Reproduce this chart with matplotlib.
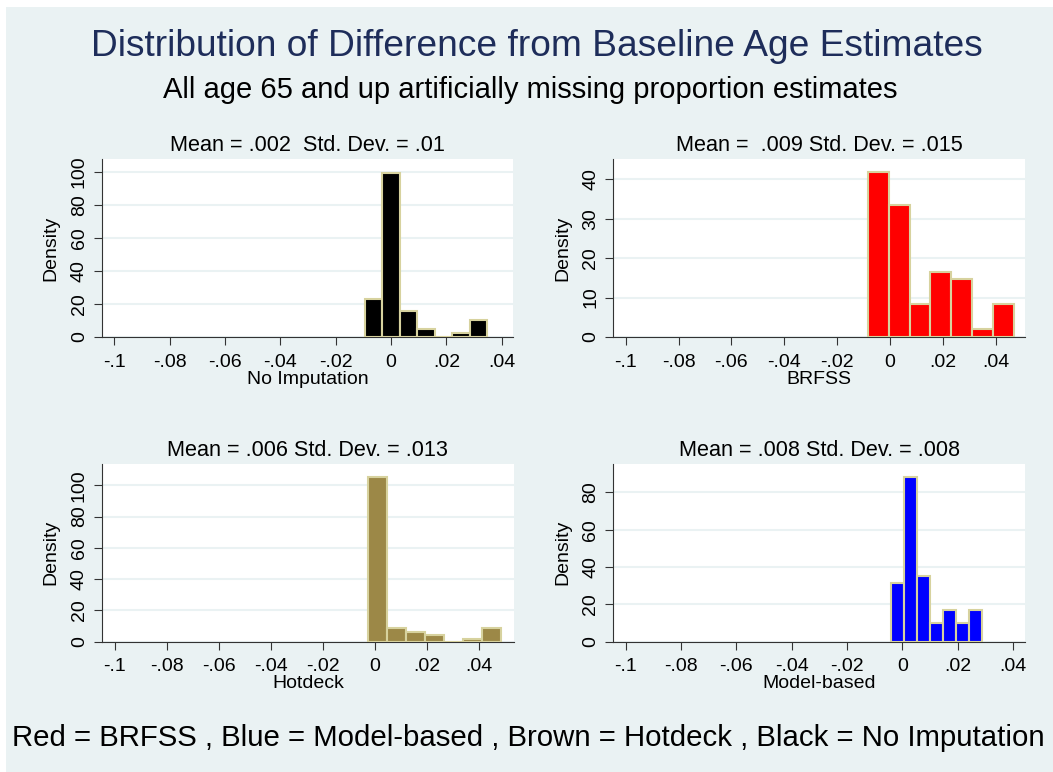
import numpy as np
import matplotlib.pyplot as plt
from matplotlib.patches import Rectangle

plt.rcParams['font.family'] = ['Liberation Sans', 'DejaVu Sans']

# histogram data (left bin edge, bin width, density)
noimp_start, noimp_width = -0.0094, 0.0063
noimp_dens = [23.2, 99.4, 15.5, 5.0, 0.0, 2.6, 10.3]

brfss_start, brfss_width = -0.0083, 0.00787
brfss_dens = [41.9, 33.5, 8.5, 16.6, 14.7, 2.0, 8.5]

hot_start, hot_width = -0.0026, 0.0073
hot_dens = [105.1, 8.5, 6.2, 4.1, 0.0, 1.7, 8.5]

model_start, model_width = -0.0041, 0.0047
model_dens = [31.6, 88.0, 35.0, 10.2, 17.0, 10.2, 17.0]

xticks = [-0.1, -0.08, -0.06, -0.04, -0.02, 0, 0.02, 0.04]
xticklabels = ['-.1', '-.08', '-.06', '-.04', '-.02', '0', '.02', '.04']

panels = [
    dict(start=noimp_start, width=noimp_width, dens=noimp_dens, color='black',
         title='Mean = .002  Std. Dev. = .01', xlabel='No Imputation',
         xlim=(-0.1046, 0.0441), ylim=(0, 107.9), yticks=np.arange(0, 101, 20),
         box=(101.7, 513, 159, 337)),
    dict(start=brfss_start, width=brfss_width, dens=brfss_dens, color='#ff0000',
         title='Mean =  .009 Std. Dev. = .015', xlabel='BRFSS',
         xlim=(-0.1047, 0.0511), ylim=(0, 45.2), yticks=np.arange(0, 41, 10),
         box=(613.3, 1025, 159, 337)),
    dict(start=hot_start, width=hot_width, dens=hot_dens, color='#9c8847',
         title='Mean = .006 Std. Dev. = .013', xlabel='Hotdeck',
         xlim=(-0.1051, 0.0535), ylim=(0, 113.6), yticks=np.arange(0, 101, 20),
         box=(101.7, 514, 464, 641.7)),
    dict(start=model_start, width=model_width, dens=model_dens, color='#0000ff',
         title='Mean = .008 Std. Dev. = .008', xlabel='Model-based',
         xlim=(-0.1045, 0.0444), ylim=(0, 95.2), yticks=np.arange(0, 81, 20),
         box=(613.3, 1025, 464, 641.7)),
]

W, H = 1053, 772
bg = '#eaf2f3'
fig = plt.figure(figsize=(W / 100, H / 100), dpi=100, facecolor='white')
fig.patches.append(Rectangle((6 / W, 0), 1, 1 - 7 / H, transform=fig.transFigure,
                             facecolor=bg, edgecolor='none', zorder=-10))

for p in panels:
    l, r, t, b = p['box']
    ax = fig.add_axes([l / W, 1 - b / H, (r - l) / W, (b - t) / H])
    ax.set_facecolor('white')
    n = len(p['dens'])
    lefts = p['start'] + p['width'] * np.arange(n)
    ax.bar(lefts, p['dens'], width=p['width'], align='edge', color=p['color'],
           edgecolor='#d7d29e', linewidth=1.5, zorder=3)
    ax.set_xlim(*p['xlim'])
    ax.set_ylim(*p['ylim'])
    ax.set_xticks(xticks)
    ax.set_xticklabels(xticklabels)
    ax.set_yticks(p['yticks'])
    ax.set_yticklabels([str(int(v)) for v in p['yticks']], rotation=90, va='center')
    ax.grid(axis='y', color=bg, linewidth=1.5, zorder=0)
    ax.tick_params(labelsize=14, length=6, color='#333333')
    ax.tick_params(axis='x', pad=6)
    ax.tick_params(axis='y', pad=4)
    for s in ['top', 'right']:
        ax.spines[s].set_visible(False)
    for s in ['left', 'bottom']:
        ax.spines[s].set_color('#333333')
    ax.set_ylabel('Density', fontsize=14, labelpad=8)
    ax.set_xlabel(p['xlabel'], fontsize=14, labelpad=0)
    ax.set_title(p['title'], fontsize=15.6, pad=6)

fig.text(537 / W, 1 - 47 / H, 'Distribution of Difference from Baseline Age Estimates',
         ha='center', va='center', fontsize=26.7, color='#1e2d5a')
fig.text(530 / W, 1 - 90 / H, 'All age 65 and up artificially missing proportion estimates',
         ha='center', va='center', fontsize=21, color='black')
fig.text(528 / W, 1 - 738 / H,
         'Red = BRFSS , Blue = Model-based , Brown = Hotdeck , Black = No Imputation',
         ha='center', va='center', fontsize=21.2, color='black')

fig.savefig('out.png', dpi=100)
